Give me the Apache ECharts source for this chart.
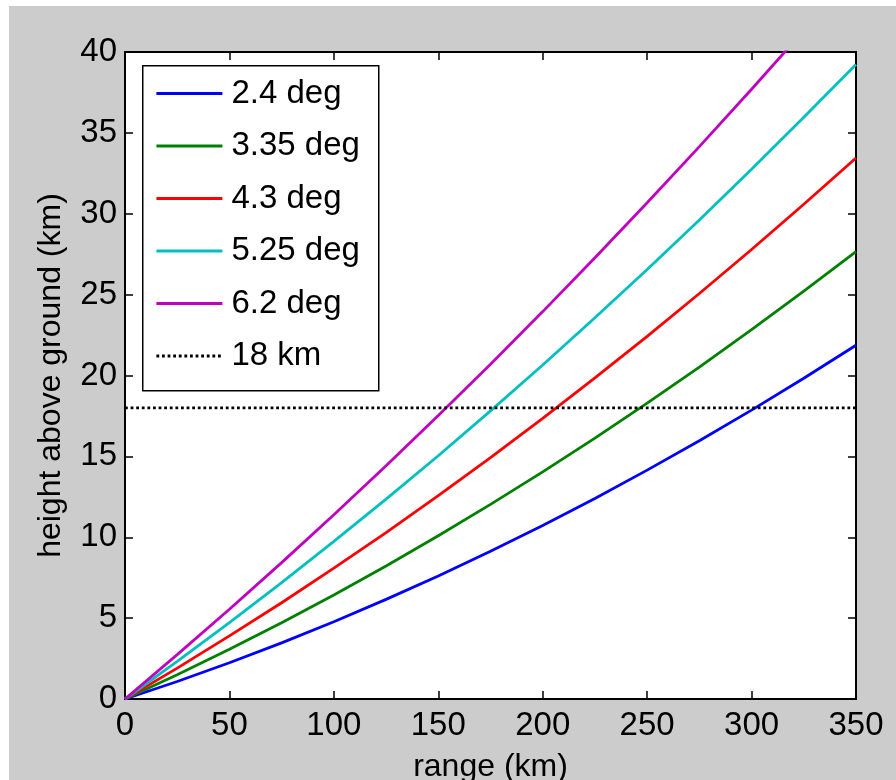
<!DOCTYPE html>
<html>
<head>
<meta charset="utf-8">
<script src="https://cdn.jsdelivr.net/npm/echarts@6/dist/echarts.min.js"></script>
<style>
html,body{margin:0;padding:0;background:#cccccc;}
#chart{width:896px;height:780px;}
</style>
</head>
<body>
<div id="chart"></div>
<script>
// range (km) sample points
var ranges = [0, 25, 50, 75, 100, 125, 150, 175, 200, 225, 250, 275, 300, 325, 350];
// height above ground (km)
var h24  = [0, 1.08, 2.24, 3.47, 4.78, 6.16, 7.61, 9.13, 10.73, 12.40, 14.15, 15.97, 17.86, 19.83, 21.87];
var h335 = [0, 1.50, 3.07, 4.71, 6.43, 8.22, 10.09, 12.03, 14.04, 16.13, 18.29, 20.52, 22.83, 25.21, 27.66];
var h43  = [0, 1.91, 3.90, 5.95, 8.09, 10.29, 12.57, 14.92, 17.35, 19.85, 22.42, 25.07, 27.79, 30.59, 33.45];
var h525 = [0, 2.32, 4.72, 7.19, 9.74, 12.36, 15.04, 17.81, 20.65, 23.57, 26.55, 29.61, 32.75, 35.96, 39.23];
var h62  = [0, 2.74, 5.55, 8.43, 11.39, 14.42, 17.52, 20.70, 23.95, 27.28, 30.68, 34.15, 37.70, 41.32, 45.0];
var refRange = [0, 350];
var refHeight = [18, 18];
var names = ['2.4 deg', '3.35 deg', '4.3 deg', '5.25 deg', '6.2 deg', '18 km'];
var colors = ['#0000ff', '#008000', '#ff0000', '#00bfbf', '#bf00bf', '#000000'];
var xTicks = [0, 50, 100, 150, 200, 250, 300, 350];
var yTicks = [0, 5, 10, 15, 20, 25, 30, 35, 40];

function pairs(xs, ys) { return xs.map(function (x, i) { return [x, ys[i]]; }); }
var allY = [h24, h335, h43, h525, h62];

var font = '"Liberation Sans", Arial, sans-serif';
var chart = echarts.init(document.getElementById('chart'), null, {renderer: 'canvas'});

var series = allY.map(function (ys, i) {
  return {
    name: names[i], type: 'line', data: pairs(ranges, ys),
    showSymbol: false, symbol: 'none', smooth: false, clip: true,
    lineStyle: {color: colors[i], width: 2.8}, itemStyle: {color: colors[i]},
    xAxisIndex: 0, yAxisIndex: 0
  };
});
series.push({
  name: names[5], type: 'line', data: pairs(refRange, refHeight),
  showSymbol: false, symbol: 'none',
  lineStyle: {color: '#000', width: 2.8, type: [2.8, 2.8]}, itemStyle: {color: '#000'},
  xAxisIndex: 0, yAxisIndex: 0
});

function axLine() { return {show: true, onZero: false, lineStyle: {color: '#000', width: 2}}; }
function tickIn() { return {show: true, inside: true, length: 8, lineStyle: {color: '#000', width: 1.5}}; }

chart.setOption({
  backgroundColor: '#cccccc',
  animation: false,
  graphic: [
    {type: 'rect', left: 0, top: 0, shape: {width: 9, height: 780}, style: {fill: '#ffffff'}, z: -10},
    {type: 'rect', left: 0, top: 0, shape: {width: 896, height: 6}, style: {fill: '#ffffff'}, z: -10},
    {type: 'rect', left: 142, top: 65, shape: {width: 236, height: 325}, style: {fill: '#ffffff', stroke: '#000', lineWidth: 1.5}, z: 90}
  ],
  grid: {left: 125, right: 40, top: 52, bottom: 81, show: true, backgroundColor: '#ffffff', borderWidth: 0,
         containLabel: false, outerBoundsMode: 'none'},
  legend: {
    show: true, orient: 'vertical', left: 142, top: 65,
    padding: [12, 14, 20, 13],
    itemWidth: 66, itemHeight: 26, itemGap: 19.5,
    z: 100,
    itemStyle: {opacity: 0},
    lineStyle: {width: 2.8},
    textStyle: {fontFamily: font, fontSize: 33, color: '#000', padding: [0, 0, 0, 4]},
    data: names
  },
  xAxis: [
    {type: 'value', min: 0, max: 350, interval: 50, position: 'bottom',
     name: 'range (km)', nameLocation: 'middle', nameGap: 52,
     nameTextStyle: {fontFamily: font, fontSize: 32, color: '#000'},
     axisLine: axLine(), axisTick: tickIn(), splitLine: {show: false},
     axisLabel: {fontFamily: font, fontSize: 33, color: '#000', margin: 10}},
    {type: 'value', min: 0, max: 350, interval: 50, position: 'top',
     axisLine: axLine(), axisTick: tickIn(), splitLine: {show: false}, axisLabel: {show: false}}
  ],
  yAxis: [
    {type: 'value', min: 0, max: 40, interval: 5, position: 'left',
     name: 'height above ground (km)', nameLocation: 'middle', nameGap: 58, nameRotate: 90,
     nameTextStyle: {fontFamily: font, fontSize: 32, color: '#000'},
     axisLine: axLine(), axisTick: tickIn(), splitLine: {show: false},
     axisLabel: {fontFamily: font, fontSize: 33, color: '#000', margin: 8}},
    {type: 'value', min: 0, max: 40, interval: 5, position: 'right',
     axisLine: axLine(), axisTick: tickIn(), splitLine: {show: false}, axisLabel: {show: false}}
  ],
  series: series
});
</script>
</body>
</html>
